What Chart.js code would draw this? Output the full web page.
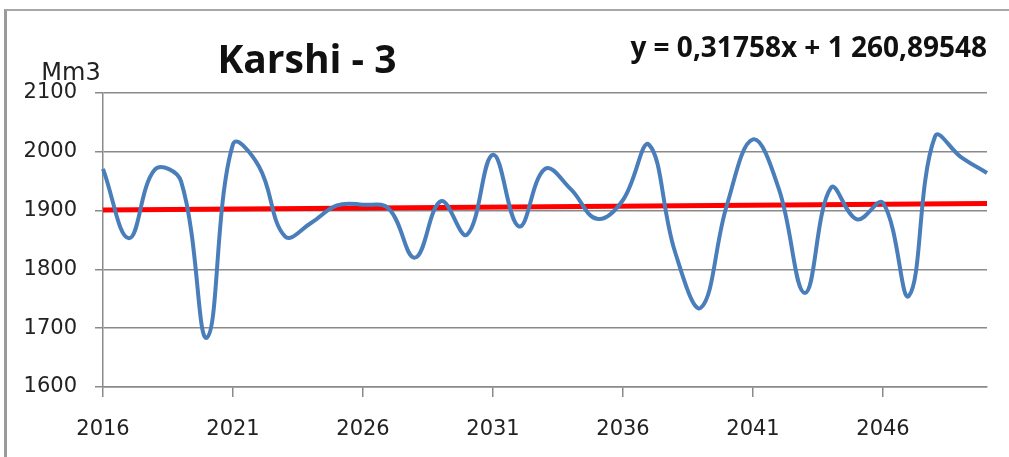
<!DOCTYPE html>
<html>
<head>
<meta charset="utf-8">
<script src="https://cdn.jsdelivr.net/npm/chart.js@4/dist/chart.umd.min.js"></script>
<style>
  html, body { margin: 0; padding: 0; background: #fff; }
  #wrap { position: relative; width: 1009px; height: 457px; overflow: hidden; }
  #frame { position: absolute; left: 4px; top: 9px; width: 1100px; height: 500px;
           border-left: 3px solid #9a9a9a; border-top: 2px solid #a8a8a8; }
  canvas { position: absolute; left: 0; top: 0; }
</style>
</head>
<body>
<div id="wrap">
  <div id="frame"></div>
  <canvas id="chart" width="1009" height="457"></canvas>
</div>
<script>
// categories (years)
var years = ['2016','2017','2018','2019','2020','2021','2022','2023','2024','2025',
             '2026','2027','2028','2029','2030','2031','2032','2033','2034','2035',
             '2036','2037','2038','2039','2040','2041','2042','2043','2044','2045',
             '2046','2047','2048','2049','2050'];
// labelled years on x axis
var yearLabels = ['2016','2021','2026','2031','2036','2041','2046'];
// volume, Mm3
var volumes = [1971, 1853, 1970, 1950, 1684, 2013, 1975, 1856, 1879, 1909,
               1910, 1903, 1820, 1916, 1859, 1995, 1873, 1971, 1936, 1886,
               1918, 2012, 1830, 1735, 1910, 2021, 1936, 1760, 1939, 1885,
               1913, 1755, 2026, 1991, 1964];
// linear trend, value at first and last year
var trendEnds = [1901.1, 1911.9];
// y axis ticks
var yTicks = [1600, 1700, 1800, 1900, 2000, 2100];

var titleText = 'Karshi - 3';
var eqText = 'y = 0,31758x + 1 260,89548';
var unitText = 'Mm3';

var trend = years.map(function(y, i){
  if(i == 0) return trendEnds[0];
  if(i == years.length-1) return trendEnds[1];
  return null;
});

var textPlugin = {
  id: 'texts',
  afterDraw: function(chart){
    var ctx = chart.ctx;
    ctx.save();
    ctx.fillStyle = '#111';
    ctx.textBaseline = 'alphabetic';
    ctx.textAlign = 'center';
    ctx.font = 'bold 39px "Open Sans"';
    ctx.fillText(titleText, 307, 73);
    ctx.textAlign = 'right';
    ctx.font = 'bold 28px "Open Sans"';
    ctx.fillText(eqText, 987, 57);
    ctx.textAlign = 'center';
    ctx.fillStyle = '#222';
    ctx.font = '24px "DejaVu Sans"';
    ctx.fillText(unitText, 71, 80);
    ctx.restore();
  }
};

var ctx = document.getElementById('chart').getContext('2d');
var chart = new Chart(ctx, {
  type: 'line',
  data: {
    labels: years,
    datasets: [
      {
        label: 'Volume',
        data: volumes,
        borderColor: '#4a7ebb',
        borderWidth: 4,
        pointRadius: 0,
        tension: 0.4,
        fill: false
      },
      {
        label: 'Trend',
        data: trend,
        borderColor: '#ff0000',
        borderWidth: 5,
        pointRadius: 0,
        spanGaps: true,
        fill: false
      }
    ]
  },
  options: {
    responsive: false,
    animation: false,
    layout: { padding: { left: 0, top: 93, right: 22, bottom: 0 } },
    plugins: {
      legend: { display: false },
      tooltip: { enabled: false },
      title: { display: false }
    },
    scales: {
      x: {
        type: 'category',
        offset: false,
        afterFit: function(scale){ scale.height = 70; },
        grid: {
          drawOnChartArea: false,
          drawTicks: true,
          tickLength: 10,
          lineWidth: 1.5,
          color: function(c){ return c.index % 5 == 0 ? '#8a8a8a' : 'rgba(0,0,0,0)'; }
        },
        border: { display: true, color: '#8a8a8a', width: 1.5 },
        ticks: {
          autoSkip: false,
          maxRotation: 0,
          padding: 20,
          color: '#222',
          font: { family: 'DejaVu Sans', size: 21 },
          callback: function(v, i){
            var l = years[i];
            return yearLabels.indexOf(l) >= 0 ? l : '';
          }
        }
      },
      y: {
        min: yTicks[0],
        max: yTicks[yTicks.length-1],
        afterFit: function(scale){ scale.width = 103; },
        afterBuildTicks: function(scale){
          scale.ticks = yTicks.map(function(v){ return { value: v }; });
        },
        grid: {
          color: '#8a8a8a',
          lineWidth: 1.5,
          tickLength: 8
        },
        border: { display: true, color: '#8a8a8a', width: 1.5 },
        ticks: {
          padding: 18,
          color: '#222',
          font: { family: 'DejaVu Sans', size: 21 },
          callback: function(v){ return String(v); }
        }
      }
    }
  },
  plugins: [textPlugin]
});
</script>
</body>
</html>
